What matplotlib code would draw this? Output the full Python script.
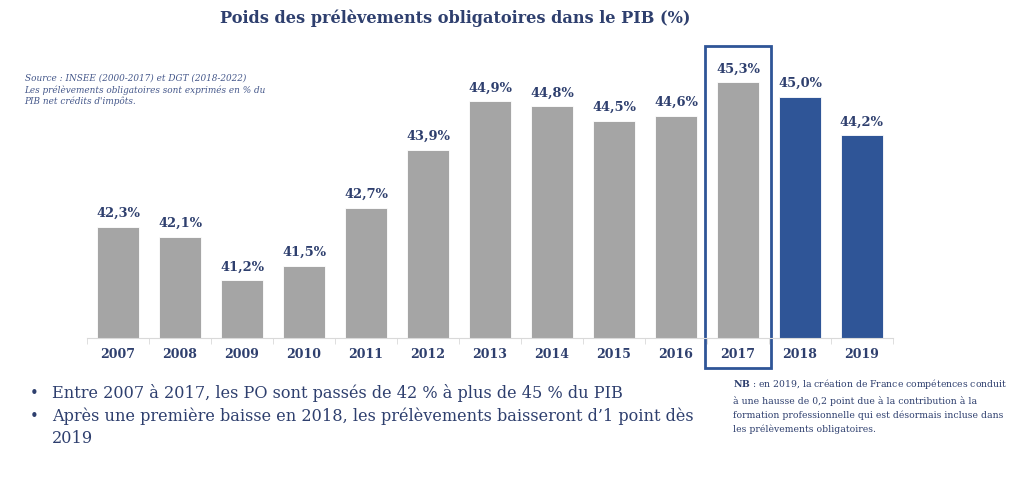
import matplotlib
matplotlib.use("Agg")
import matplotlib.pyplot as plt
from matplotlib.patches import Rectangle
import numpy as np

years = ["2007", "2008", "2009", "2010", "2011", "2012", "2013",
         "2014", "2015", "2016", "2017", "2018", "2019"]
values = [42.3, 42.1, 41.2, 41.5, 42.7, 43.9, 44.9,
          44.8, 44.5, 44.6, 45.3, 45.0, 44.2]
labels = ["42,3%", "42,1%", "41,2%", "41,5%", "42,7%", "43,9%", "44,9%",
          "44,8%", "44,5%", "44,6%", "45,3%", "45,0%", "44,2%"]
forecast = [False] * 11 + [True] * 2
highlight = "2017"

navy = "#2E3F6E"
gray = "#A5A5A5"
blue = "#2F5597"
serif = "DejaVu Serif"
plt.rcParams["mathtext.fontset"] = "dejavuserif"

fig = plt.figure(figsize=(10.24, 4.86), dpi=100)
ax = fig.add_axes([0.085, 0.3045, 0.787, 0.616])

x = np.arange(len(years))
colors = [blue if f else gray for f in forecast]
ax.bar(x, values, width=0.68, color=colors, edgecolor="white", linewidth=0.6)

for xi, v, lab in zip(x, values, labels):
    ax.text(xi, v + 0.14, lab, ha="center", va="bottom", fontsize=9.4,
            fontweight="bold", color=navy, family=serif)

ax.set_xlim(-0.5, len(years) - 0.5)
ax.set_ylim(40, 46.2)
ax.set_xticks(x)
ax.set_xticklabels(years, fontsize=9, fontweight="bold", color=navy, family=serif)
ax.set_xticks(np.arange(-0.5, len(years), 1.0), minor=True)
ax.tick_params(axis="x", which="major", length=0, pad=7)
ax.tick_params(axis="x", which="minor", length=4, color="#D9D9D9")
ax.set_yticks([])
for s in ["top", "right", "left"]:
    ax.spines[s].set_visible(False)
ax.spines["bottom"].set_color("#D9D9D9")

hi = years.index(highlight)
ax.add_patch(Rectangle((hi - 0.53, 39.38), 1.06, 6.67, fill=False,
                       edgecolor=blue, linewidth=2, clip_on=False))

fig.text(0.445, 0.962, "Poids des prélèvements obligatoires dans le PIB (%)",
         ha="center", va="center", fontsize=11.6, fontweight="bold",
         color=navy, family=serif)

fig.text(0.024, 0.848,
         "Source : INSEE (2000-2017) et DGT (2018-2022)\n"
         "Les prélèvements obligatoires sont exprimés en % du\n"
         "PIB net crédits d'impôts.",
         ha="left", va="top", fontsize=6.4, style="italic",
         color="#44578A", family=serif, linespacing=1.3)

# bullet points under the chart
bullet_lines = ["Entre 2007 à 2017, les PO sont passés de 42 % à plus de 45 % du PIB",
                "Après une première baisse en 2018, les prélèvements baisseront d\u20191 point dès",
                "2019"]
bullet_mark = [True, True, False]
line_y = [393, 416, 438]
for txt, mark, py in zip(bullet_lines, bullet_mark, line_y):
    yy = 1 - py / 486
    if mark:
        fig.text(0.029, yy, "\u2022", ha="left", va="center", fontsize=10.5, color=navy)
    fig.text(0.051, yy, txt, ha="left", va="center", fontsize=11.6,
             color=navy, family=serif)

fig.text(0.716, 1 - 377 / 486,
         "$\\bf{NB}$ : en 2019, la création de France compétences conduit\n"
         "à une hausse de 0,2 point due à la contribution à la\n"
         "formation professionnelle qui est désormais incluse dans\n"
         "les prélèvements obligatoires.",
         ha="left", va="top", fontsize=6.7, color=navy, family=serif,
         linespacing=1.62)

fig.savefig("out.png", dpi=100)
